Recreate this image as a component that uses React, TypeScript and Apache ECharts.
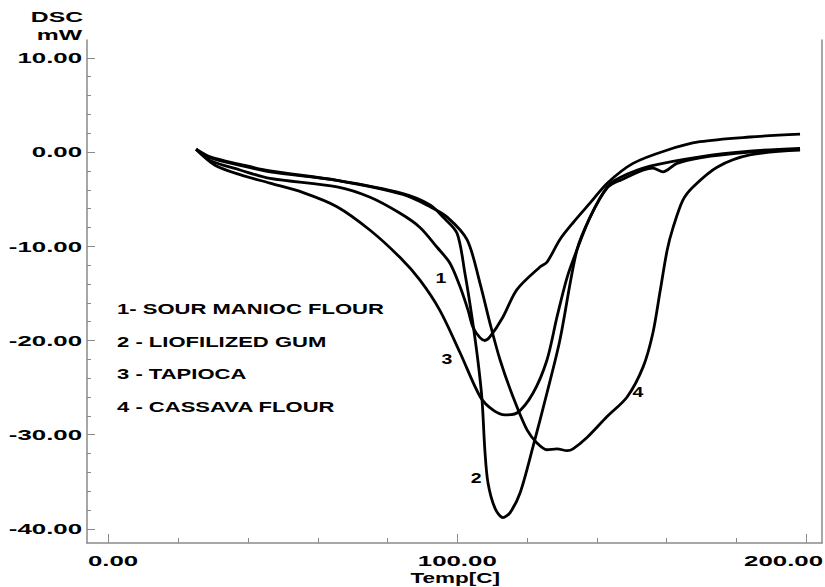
import React, { useEffect, useRef } from "react";
import * as echarts from "echarts";

// ---- data (Temp [C], DSC [mW]) ----
const sourManiocFlour: [number, number][] = [
  [25.1, 0.3], [29.1, -0.9], [37.7, -1.9], [46.3, -2.8], [65.5, -3.7], [75.0, -4.8],
  [83.6, -6.5], [89.3, -8.0], [94.2, -10.1], [97.9, -11.8], [100.8, -14.3], [103.1, -16.8],
  [104.5, -18.6], [106.5, -19.7], [107.9, -20.0], [109.4, -19.6], [113.1, -17.5],
  [117.1, -14.6], [123.7, -12.2], [125.7, -11.7], [129.4, -9.3], [133.2, -7.5],
  [138.1, -5.4], [143.0, -3.3], [150.4, -1.2], [160.1, 0.2], [169.6, 1.1], [183.9, 1.6],
  [198.3, 1.9],
];
const liofilizedGum: [number, number][] = [
  [25.1, 0.3], [29.1, -0.6], [37.7, -1.4], [46.3, -2.1], [65.5, -3.0], [84.4, -4.4],
  [92.2, -5.6], [95.9, -6.9], [99.9, -8.6], [102.2, -12.9], [104.2, -17.5], [105.9, -22.1],
  [107.1, -26.3], [107.9, -31.6], [108.8, -35.1], [110.8, -37.8], [113.1, -38.8],
  [115.1, -38.3], [118.0, -36.2], [121.7, -31.3], [125.7, -25.6], [129.4, -20.0],
  [134.3, -10.4], [138.1, -6.9], [143.0, -3.7], [146.7, -2.7], [155.3, -1.5],
  [169.6, -0.5], [183.9, 0.1], [198.3, 0.4],
];
const tapioca: [number, number][] = [
  [25.1, 0.3], [30.5, -1.4], [37.7, -2.4], [46.3, -3.3], [55.8, -4.3], [65.5, -5.8],
  [75.0, -8.3], [83.6, -11.2], [89.3, -13.6], [95.0, -16.8], [100.8, -21.3], [106.6, -26.0],
  [110.3, -27.4], [113.7, -27.9], [117.1, -27.7], [121.7, -25.6], [125.7, -22.1],
  [128.6, -17.5], [131.5, -13.3], [134.3, -10.4], [138.1, -6.9], [143.0, -3.8],
  [146.7, -3.0], [156.1, -1.7], [159.0, -2.1], [163.0, -1.2], [169.6, -0.6], [183.9, 0.0],
  [198.3, 0.3],
];
const cassavaFlour: [number, number][] = [
  [25.1, 0.3], [29.1, -0.5], [37.7, -1.3], [46.3, -2.0], [65.5, -3.0], [84.4, -4.5],
  [92.2, -5.8], [97.1, -6.9], [102.8, -9.3], [106.5, -13.9], [109.4, -18.2], [112.3, -22.1],
  [116.0, -26.0], [120.0, -29.5], [122.9, -30.9], [125.7, -31.6], [128.6, -31.5],
  [131.5, -31.7], [133.2, -31.5], [137.2, -30.3], [142.9, -28.1], [148.7, -26.0],
  [153.3, -22.8], [156.1, -19.2], [158.2, -14.7], [160.2, -10.4], [161.9, -8.0],
  [164.7, -5.1], [167.6, -3.7], [174.5, -1.6], [183.9, -0.3], [198.3, 0.2],
];

const yLabelValues = [10, 0, -10, -20, -30, -40];
const yMinorTicks = [-40, -38, -36, -34, -32, -30, -28, -26, -24, -22, -20, -18, -16, -14, -12, -10, -8, -6, -4, -2, 0, 2, 4, 6, 8, 10];
const xLabelValues = [0, 100, 200];
const xMinorTicks = [0, 20, 40, 60, 80, 100, 120, 140, 160, 180, 200];
const legendLines = ["1- SOUR MANIOC FLOUR", "2 - LIOFILIZED GUM", "3 - TAPIOCA", "4 - CASSAVA FLOUR"];
const curveTags = [
  { text: "1", x: 95.3, y: -13.3 },
  { text: "2", x: 105.4, y: -34.6 },
  { text: "3", x: 97.0, y: -21.9 },
  { text: "4", x: 151.8, y: -25.5 },
];
const yAxisTitle = ["DSC", "mW"];
const xAxisTitle = "Temp[C]";

const FONT = '"Liberation Sans", Arial, Helvetica, sans-serif';
const AXIS_GRAY = "#8a8a8a";

export default function App() {
  const ref = useRef<HTMLDivElement>(null);
  useEffect(() => {
    if (!ref.current) return;
    const chart = echarts.init(ref.current, null, { renderer: "svg" });
    const W = 825;
    const gridLeft = 87, gridTop = 40, gridRight = 3, gridBottom = 44;
    const mkSeries = (name: string, data: [number, number][]) => ({
      name,
      type: "line",
      data,
      showSymbol: false,
      smooth: 0.3,
      lineStyle: { color: "#000", width: 2.8 },
      xAxisIndex: 0,
      yAxisIndex: 0,
    });
    const line = (show: boolean) => ({
      show, onZero: false, lineStyle: { color: AXIS_GRAY, width: 1.5 },
    });
    chart.setOption({
      animation: false,
      backgroundColor: "#fff",
      grid: { left: gridLeft, top: gridTop, right: gridRight, bottom: gridBottom, containLabel: false },
      xAxis: [
        {
          type: "value", min: -6.2, max: 204.6, position: "bottom",
          axisLine: line(true),
          axisTick: { show: true, inside: true, length: 5, customValues: xMinorTicks, lineStyle: { color: AXIS_GRAY, width: 1 } },
          axisLabel: { show: false }, splitLine: { show: false },
        },
        {
          type: "value", min: -6.2, max: 204.6, position: "bottom",
          axisLine: line(false),
          axisTick: { show: true, inside: true, length: 9, customValues: xLabelValues, lineStyle: { color: AXIS_GRAY, width: 1 } },
          axisLabel: { show: false }, splitLine: { show: false },
        },
      ],
      yAxis: [
        {
          type: "value", min: -41.5, max: 11.9, position: "left",
          axisLine: line(true),
          axisTick: { show: true, inside: true, length: 4, customValues: yMinorTicks, lineStyle: { color: AXIS_GRAY, width: 1 } },
          axisLabel: { show: false }, splitLine: { show: false },
        },
        {
          type: "value", min: -41.5, max: 11.9, position: "left",
          axisLine: line(false),
          axisTick: { show: true, inside: true, length: 8, customValues: yLabelValues, lineStyle: { color: AXIS_GRAY, width: 1 } },
          axisLabel: { show: false }, splitLine: { show: false },
        },
        {
          type: "value", min: -41.5, max: 11.9, position: "right",
          axisLine: line(true),
          axisTick: { show: false }, axisLabel: { show: false }, splitLine: { show: false },
        },
      ],
      series: [
        mkSeries("1- SOUR MANIOC FLOUR", sourManiocFlour),
        mkSeries("2 - LIOFILIZED GUM", liofilizedGum),
        mkSeries("3 - TAPIOCA", tapioca),
        mkSeries("4 - CASSAVA FLOUR", cassavaFlour),
      ],
    });

    const toPx = (x: number, y: number) =>
      chart.convertToPixel({ xAxisIndex: 0, yAxisIndex: 0 }, [x, y]) as number[];
    const txt = (text: string, x: number, y: number, align: string, scaleX: number, size = 15) => ({
      type: "text",
      x, y, scaleX,
      silent: true,
      style: {
        text, fill: "#000", fontSize: size, fontFamily: FONT, fontWeight: "bold",
        align, textAlign: align, verticalAlign: "middle", textVerticalAlign: "middle",
      },
    });
    const graphics: any[] = [];
    yLabelValues.forEach((v) => {
      const p = toPx(0, v);
      graphics.push(txt(v.toFixed(2), gridLeft - 5, p[1], "right", 1.72));
    });
    const xLabelY = 561;
    xLabelValues.forEach((v, i) => {
      const p = toPx(v, 0);
      if (i === 0) graphics.push(txt(v.toFixed(2), gridLeft + 1, xLabelY, "left", 1.72));
      else if (i === xLabelValues.length - 1) graphics.push(txt(v.toFixed(2), W - 2, xLabelY, "right", 1.72));
      else graphics.push(txt(v.toFixed(2), p[0], xLabelY, "center", 1.72));
    });
    const mid = toPx(100, 0);
    graphics.push(txt(xAxisTitle, mid[0] - 2, 578, "center", 1.5));
    graphics.push(txt(yAxisTitle[0], 83, 17, "right", 1.65));
    graphics.push(txt(yAxisTitle[1], 82, 35, "right", 1.65));
    curveTags.forEach((t) => {
      const p = toPx(t.x, t.y);
      graphics.push(txt(t.text, p[0], p[1], "center", 1.3));
    });
    legendLines.forEach((s, i) => {
      graphics.push(txt(s, 117, 309 + i * 32.5, "left", 1.47));
    });
    chart.setOption({ graphic: graphics });

    return () => chart.dispose();
  }, []);
  return (
    <div
      ref={ref}
      style={{ position: "fixed", left: 0, top: 0, width: 825, height: 587, background: "#fff" }}
    />
  );
}
